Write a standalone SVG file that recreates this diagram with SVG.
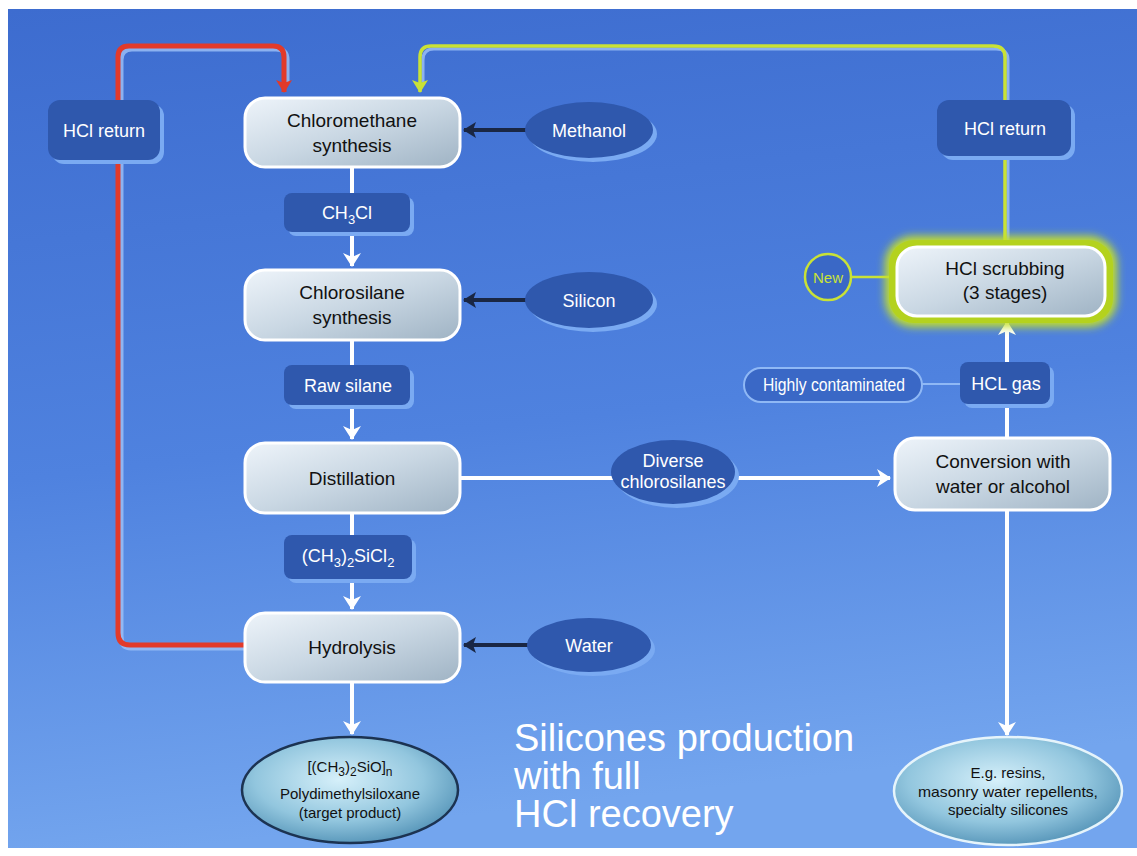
<svg xmlns="http://www.w3.org/2000/svg" width="1137" height="856" viewBox="0 0 1137 856">
<defs>
<linearGradient id="bg" x1="0" y1="0" x2="0.15" y2="1">
<stop offset="0" stop-color="#3d6ccf"/>
<stop offset="0.55" stop-color="#4f82df"/>
<stop offset="1" stop-color="#73a5ee"/>
</linearGradient>
<linearGradient id="boxg" x1="0" y1="0" x2="1" y2="1">
<stop offset="0" stop-color="#eef4fa"/>
<stop offset="0.5" stop-color="#c9d7e3"/>
<stop offset="1" stop-color="#9fb3c4"/>
</linearGradient>
<radialGradient id="ellg" cx="0.45" cy="0.4" r="0.65">
<stop offset="0" stop-color="#d6f0fa"/>
<stop offset="0.6" stop-color="#92c6de"/>
<stop offset="1" stop-color="#4f8fb4"/>
</radialGradient>
<filter id="glow" x="-20%" y="-30%" width="140%" height="160%">
<feGaussianBlur stdDeviation="4"/>
</filter>
<marker id="aw" markerWidth="20" markerHeight="18" refX="13" refY="9" orient="auto" markerUnits="userSpaceOnUse">
<path d="M0,0 L14,9 L0,18 L4,9 Z" fill="#ffffff"/>
</marker>
<marker id="ad" markerWidth="18" markerHeight="16" refX="12" refY="8" orient="auto" markerUnits="userSpaceOnUse">
<path d="M0,0 L13,8 L0,16 L3,8 Z" fill="#1a2744"/>
</marker>
<marker id="ar" markerWidth="18" markerHeight="16" refX="12" refY="8" orient="auto" markerUnits="userSpaceOnUse">
<path d="M0,0 L13,8 L0,16 L3,8 Z" fill="#e23a2a"/>
</marker>
<marker id="ay" markerWidth="18" markerHeight="16" refX="12" refY="8" orient="auto" markerUnits="userSpaceOnUse">
<path d="M0,0 L13,8 L0,16 L3,8 Z" fill="#c9e236"/>
</marker>
</defs>
<style>
.main{fill:url(#boxg);stroke:#ffffff;stroke-width:3}
.lbl{fill:#2f58ad}
.lsh{fill:#7aaaf2}
.inp{fill:#2f58ad}
.tb{font-family:"Liberation Sans",Arial,sans-serif;font-size:19px;fill:#111;text-anchor:middle}
.tw{font-family:"Liberation Sans",Arial,sans-serif;font-size:18px;fill:#fff;text-anchor:middle}
.ts{font-family:"Liberation Sans",Arial,sans-serif;font-size:15px;fill:#111;text-anchor:middle}
.wl{stroke:#fff;stroke-width:4;fill:none}
.dl{stroke:#1a2744;stroke-width:4;fill:none}
</style>
<rect x="0" y="0" width="1137" height="856" fill="#ffffff"/>
<rect x="8" y="9" width="1129" height="839" fill="url(#bg)"/>

<g id="connectors">
<path d="M245,648 H131 Q121,648 121,636 V60 Q121,49 132,49 H276 Q287,49 287,60 V82" stroke="#9fc2f7" stroke-width="5" fill="none" opacity="0.8"/>
<path d="M245,645 H130 Q118,645 118,633 V57 Q118,46 129,46 H273 Q284,46 284,57 V92" stroke="#e23a2a" stroke-width="5" fill="none" marker-end="url(#ar)"/>
<path d="M1008,245 V60 Q1008,49 996,49 H434 Q423,49 423,60 V82" stroke="#9fc2f7" stroke-width="3" fill="none" opacity="0.8"/>
<path d="M1005,245 V57 Q1005,46 993,46 H431 Q420,46 420,57 V92" stroke="#c9e236" stroke-width="3.5" fill="none" marker-end="url(#ay)"/>
<line class="wl" x1="352" y1="168" x2="352" y2="266" marker-end="url(#aw)"/>
<line class="wl" x1="352" y1="341" x2="352" y2="439" marker-end="url(#aw)"/>
<line class="wl" x1="352" y1="514" x2="352" y2="609" marker-end="url(#aw)"/>
<line class="wl" x1="352" y1="683" x2="352" y2="734" marker-end="url(#aw)"/>
<line class="dl" x1="530" y1="130" x2="464" y2="130" marker-end="url(#ad)"/>
<line class="dl" x1="530" y1="300" x2="464" y2="300" marker-end="url(#ad)"/>
<line class="dl" x1="530" y1="645" x2="464" y2="645" marker-end="url(#ad)"/>
<line class="wl" x1="461" y1="478" x2="890" y2="478" marker-end="url(#aw)"/>
<line class="wl" x1="1007" y1="437" x2="1007" y2="322" marker-end="url(#aw)"/>
<line class="wl" x1="1007" y1="511" x2="1007" y2="735" marker-end="url(#aw)"/>
<line x1="851" y1="277" x2="895" y2="277" stroke="#c9e236" stroke-width="2.5"/>
<line x1="922" y1="384" x2="961" y2="384" stroke="#8fb8f5" stroke-width="2"/>
</g>

<g id="hcl-return-left">
<rect x="52" y="104" width="112" height="60" rx="12" class="lsh"/>
<rect x="48" y="100" width="112" height="60" rx="12" class="lbl"/>
<text x="104" y="137" class="tw">HCl return</text>
</g>

<g id="chloromethane">
<rect x="245" y="98" width="215" height="69" rx="20" class="main"/>
<text x="352" y="127" class="tb">Chloromethane</text>
<text x="352" y="152" class="tb">synthesis</text>
</g>

<g id="methanol">
<ellipse cx="593" cy="134" rx="64" ry="28" class="lsh"/>
<ellipse cx="589" cy="130" rx="64" ry="28" class="inp"/>
<text x="589" y="137" class="tw">Methanol</text>
</g>

<g id="ch3cl">
<rect x="288" y="197" width="126" height="39" rx="8" class="lsh"/>
<rect x="284" y="193" width="126" height="39" rx="8" class="lbl"/>
<text x="347" y="219" class="tw">CH<tspan dy="5" font-size="13">3</tspan><tspan dy="-5">Cl</tspan></text>
</g>

<g id="chlorosilane">
<rect x="245" y="270" width="215" height="70" rx="20" class="main"/>
<text x="352" y="299" class="tb">Chlorosilane</text>
<text x="352" y="324" class="tb">synthesis</text>
</g>

<g id="silicon">
<ellipse cx="593" cy="304" rx="64" ry="28" class="lsh"/>
<ellipse cx="589" cy="300" rx="64" ry="28" class="inp"/>
<text x="589" y="307" class="tw">Silicon</text>
</g>

<g id="raw-silane">
<rect x="288" y="369" width="126" height="40" rx="8" class="lsh"/>
<rect x="284" y="365" width="126" height="40" rx="8" class="lbl"/>
<text x="348" y="392" class="tw">Raw silane</text>
</g>

<g id="distillation">
<rect x="245" y="443" width="215" height="70" rx="20" class="main"/>
<text x="352" y="485" class="tb">Distillation</text>
</g>

<g id="dimethyl">
<rect x="288" y="539" width="128" height="44" rx="8" class="lsh"/>
<rect x="284" y="535" width="128" height="44" rx="8" class="lbl"/>
<text x="348" y="562" class="tw">(CH<tspan dy="5" font-size="13">3</tspan><tspan dy="-5">)</tspan><tspan dy="5" font-size="13">2</tspan><tspan dy="-5">SiCl</tspan><tspan dy="5" font-size="13">2</tspan></text>
</g>

<g id="hydrolysis">
<rect x="245" y="613" width="215" height="69" rx="20" class="main"/>
<text x="352" y="654" class="tb">Hydrolysis</text>
</g>

<g id="water">
<ellipse cx="593" cy="649" rx="62" ry="27" class="lsh"/>
<ellipse cx="589" cy="645" rx="62" ry="27" class="inp"/>
<text x="589" y="652" class="tw">Water</text>
</g>

<g id="pdms">
<ellipse cx="350" cy="790" rx="108" ry="53" fill="url(#ellg)" stroke="#1c3352" stroke-width="2.5"/>
<text x="350" y="772" class="ts" font-size="17">[(CH<tspan dy="4" font-size="12">3</tspan><tspan dy="-4">)</tspan><tspan dy="4" font-size="12">2</tspan><tspan dy="-4">SiO]</tspan><tspan dy="4" font-size="12">n</tspan></text>
<text x="350" y="799" class="ts" font-size="16">Polydimethylsiloxane</text>
<text x="350" y="818" class="ts" font-size="16">(target product)</text>
</g>

<g id="diverse">
<ellipse cx="677" cy="476" rx="62" ry="32" class="lsh"/>
<ellipse cx="673" cy="472" rx="62" ry="32" class="inp"/>
<text x="673" y="467" class="tw" font-size="17">Diverse</text>
<text x="673" y="488" class="tw" font-size="17">chlorosilanes</text>
</g>

<g id="conversion">
<rect x="895" y="438" width="215" height="72" rx="20" class="main"/>
<text x="1003" y="468" class="tb">Conversion with</text>
<text x="1003" y="493" class="tb">water or alcohol</text>
</g>

<g id="hcl-gas">
<rect x="964" y="366" width="90" height="42" rx="8" class="lsh"/>
<rect x="960" y="362" width="90" height="42" rx="8" class="lbl"/>
<text x="1006" y="390" class="tw">HCL gas</text>
</g>

<g id="highly-contaminated">
<rect x="744" y="368" width="178" height="34" rx="17" fill="#3a68c6" stroke="#8fb8f5" stroke-width="2"/>
<text x="834" y="391" class="tw" font-size="16" textLength="142" lengthAdjust="spacingAndGlyphs">Highly contaminated</text>
</g>

<g id="hcl-scrubbing">
<rect x="885" y="236" width="232" height="91" rx="28" fill="#c3e02a" filter="url(#glow)"/>
<rect x="889" y="240" width="224" height="83" rx="25" fill="#b4d21e"/>
<rect x="897" y="247" width="208" height="69" rx="20" class="main"/>
<text x="1005" y="275" class="tb">HCl scrubbing</text>
<text x="1005" y="299" class="tb">(3 stages)</text>
</g>

<g id="new">
<circle cx="828" cy="277" r="23" fill="#3a68c6" stroke="#c9e236" stroke-width="2.5"/>
<text x="828" y="283" font-family="Liberation Sans, Arial, sans-serif" font-size="15" fill="#c9e236" text-anchor="middle">New</text>
</g>

<g id="hcl-return-right">
<rect x="941" y="104" width="134" height="56" rx="12" class="lsh"/>
<rect x="937" y="100" width="134" height="56" rx="12" class="lbl"/>
<text x="1005" y="135" class="tw">HCl return</text>
</g>

<g id="products">
<ellipse cx="1008" cy="791" rx="114" ry="54" fill="url(#ellg)" stroke="#e6f4fb" stroke-width="2.5"/>
<text x="1008" y="778" class="ts" font-size="15">E.g. resins,</text>
<text x="1008" y="797" class="ts" font-size="15" textLength="180" lengthAdjust="spacingAndGlyphs">masonry water repellents,</text>
<text x="1008" y="815" class="ts" font-size="15">specialty silicones</text>
</g>

<g id="title" font-family="Liberation Sans, Arial, sans-serif" font-size="38" fill="#ffffff">
<text x="514" y="751">Silicones production</text>
<text x="514" y="789">with full</text>
<text x="514" y="827">HCl recovery</text>
</g>
</svg>
